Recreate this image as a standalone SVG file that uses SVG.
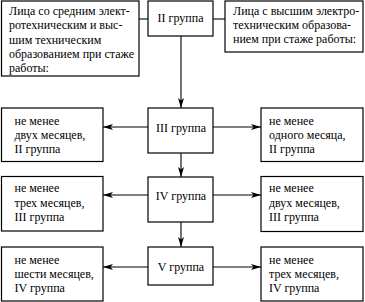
<svg xmlns="http://www.w3.org/2000/svg" width="365" height="302" viewBox="0 0 365 302">
<style>
.box{fill:#fff;stroke:#000;stroke-width:1.2}
text{font-family:'Liberation Serif','Times New Roman',serif;font-size:12px;fill:#000}
.c{text-anchor:middle}
.ln{stroke:#000;stroke-width:1.1;fill:none}
</style>
<defs>
<marker id="ah" viewBox="0 0 10 6" refX="10" refY="3" markerWidth="10" markerHeight="6" markerUnits="userSpaceOnUse" orient="auto">
<path d="M0,0 L10,3 L0,6 L2.5,3 Z" fill="#000"/>
</marker>
</defs>
<rect width="365" height="302" fill="#fff"/>
<g id="connectors">
<line class="ln" x1="139" y1="19" x2="148" y2="19"/>
<line class="ln" x1="213" y1="19" x2="225" y2="19"/>
<line class="ln" x1="181" y1="36" x2="181" y2="108" marker-end="url(#ah)"/>
<line class="ln" x1="181" y1="153" x2="181" y2="177" marker-end="url(#ah)"/>
<line class="ln" x1="181" y1="222" x2="181" y2="247" marker-end="url(#ah)"/>
<line class="ln" x1="148" y1="127" x2="103" y2="127" marker-end="url(#ah)"/>
<line class="ln" x1="213" y1="127" x2="261" y2="127" marker-end="url(#ah)"/>
<line class="ln" x1="148" y1="195" x2="103" y2="195" marker-end="url(#ah)"/>
<line class="ln" x1="213" y1="195" x2="261" y2="195" marker-end="url(#ah)"/>
<line class="ln" x1="148" y1="267" x2="103" y2="267" marker-end="url(#ah)"/>
<line class="ln" x1="213" y1="267" x2="261" y2="267" marker-end="url(#ah)"/>
</g>
<g id="top-left">
<rect class="box" x="1.5" y="1" width="137.5" height="75"/>
<text x="9" y="15">Лица со средним элект-</text>
<text x="9" y="29.3">ротехническим и выс-</text>
<text x="9" y="43.6">шим техническим</text>
<text x="9" y="57.9">образованием при стаже</text>
<text x="9" y="72.2">работы:</text>
</g>
<g id="g2">
<rect class="box" x="148" y="1" width="65" height="35"/>
<text class="c" x="180.5" y="22">II группа</text>
</g>
<g id="top-right">
<rect class="box" x="225" y="1" width="138" height="51"/>
<text x="233" y="15">Лица с высшим электро-</text>
<text x="233" y="29">техническим образова-</text>
<text x="233" y="43">нием при стаже работы:</text>
</g>
<g id="g3">
<rect class="box" x="148" y="108" width="65" height="45"/>
<text class="c" x="181" y="131.5">III группа</text>
</g>
<g id="l3">
<rect class="box" x="1.5" y="108" width="101.5" height="53.5"/>
<text x="14.5" y="124.5">не менее</text>
<text x="14.5" y="138.5">двух месяцев,</text>
<text x="14.5" y="153">II группа</text>
</g>
<g id="r3">
<rect class="box" x="261" y="108" width="102" height="53.5"/>
<text x="269" y="124.5">не менее</text>
<text x="269" y="138.5">одного месяца,</text>
<text x="269" y="153">II группа</text>
</g>
<g id="g4">
<rect class="box" x="148" y="177" width="65" height="45"/>
<text class="c" x="181" y="199.5">IV группа</text>
</g>
<g id="l4">
<rect class="box" x="1.5" y="176.5" width="101.5" height="54.5"/>
<text x="14.5" y="192">не менее</text>
<text x="14.5" y="206.5">трех месяцев,</text>
<text x="14.5" y="221">III группа</text>
</g>
<g id="r4">
<rect class="box" x="261" y="176.5" width="102" height="55"/>
<text x="269" y="192">не менее</text>
<text x="269" y="206.5">двух месяцев,</text>
<text x="269" y="221">III группа</text>
</g>
<g id="g5">
<rect class="box" x="148" y="247" width="65" height="38"/>
<text class="c" x="181" y="271">V группа</text>
</g>
<g id="l5">
<rect class="box" x="1.5" y="247" width="101.5" height="54"/>
<text x="14.5" y="263.5">не менее</text>
<text x="14.5" y="277.5">шести месяцев,</text>
<text x="14.5" y="292">IV группа</text>
</g>
<g id="r5">
<rect class="box" x="261" y="247" width="102" height="54"/>
<text x="269" y="263.5">не менее</text>
<text x="269" y="277.5">трех месяцев,</text>
<text x="269" y="292">IV группа</text>
</g>
</svg>
